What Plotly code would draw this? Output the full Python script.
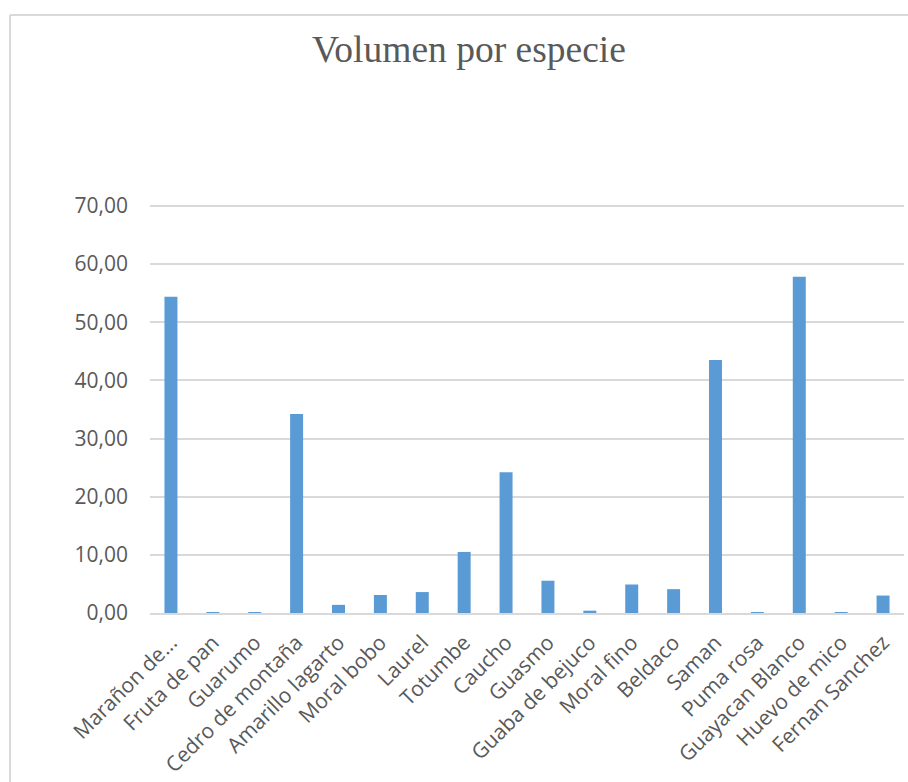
import plotly.graph_objects as go

categories = ["Marañon de...", "Fruta de pan", "Guarumo", "Cedro de montaña", "Amarillo lagarto",
              "Moral bobo", "Laurel", "Totumbe", "Caucho", "Guasmo", "Guaba de bejuco",
              "Moral fino", "Beldaco", "Saman", "Puma rosa", "Guayacan Blanco",
              "Huevo de mico", "Fernan Sanchez"]
volumen = [54.4, 0.15, 0.15, 34.2, 1.4, 3.1, 3.6, 10.5, 24.2, 5.55, 0.4, 4.9, 4.1, 43.5, 0.03, 57.8, 0.03, 3.0]
y_ticks = [0, 10, 20, 30, 40, 50, 60, 70]
y_tick_labels = ["0,00", "10,00", "20,00", "30,00", "40,00", "50,00", "60,00", "70,00"]

W, H = 908, 782
L, R, T, B = 150, 4, 203, 169
pw = W - L - R
ph = H - T - B

def px2paper_x(px):
    return (px - L) / pw

def py2paper_y(py):
    return (H - B - py) / ph

fig = go.Figure()
fig.add_trace(go.Bar(x=categories, y=volumen, marker_color="#5B9BD5", marker_line_width=0))

fig.update_layout(
    width=W, height=H,
    margin=dict(l=L, r=R, t=T, b=B, autoexpand=False),
    paper_bgcolor="white", plot_bgcolor="white",
    bargap=0.69,
    showlegend=False,
    title=dict(text="Volumen por especie", x=px2paper_x(469), xref="paper", xanchor="center",
               y=1 - 49 / H, yanchor="middle",
               font=dict(family="Liberation Serif", size=37.5, color="#595959")),
    font=dict(family="Open Sans", color="#595959"),
)
fig.update_yaxes(range=[0, 70.5], tickvals=y_ticks, ticktext=y_tick_labels,
                 showgrid=True, gridcolor="#D9D9D9", gridwidth=1.5, zeroline=False,
                 showline=False, tickfont=dict(size=21, color="#595959"),
                 ticklabelstandoff=21)
fig.update_xaxes(showline=True, linecolor="#D9D9D9", linewidth=2, tickangle=-45,
                 tickfont=dict(size=21, color="#595959"), showgrid=False,
                 ticklabelstandoff=7)

# chart area border (top and left visible)
fig.add_shape(type="line", xref="paper", yref="paper", x0=px2paper_x(10), x1=px2paper_x(912),
              y0=py2paper_y(15), y1=py2paper_y(15), line=dict(color="#D9D9D9", width=2))
fig.add_shape(type="line", xref="paper", yref="paper", x0=px2paper_x(10), x1=px2paper_x(10),
              y0=py2paper_y(15), y1=py2paper_y(790), line=dict(color="#D9D9D9", width=2))

fig.write_html("out.html")
